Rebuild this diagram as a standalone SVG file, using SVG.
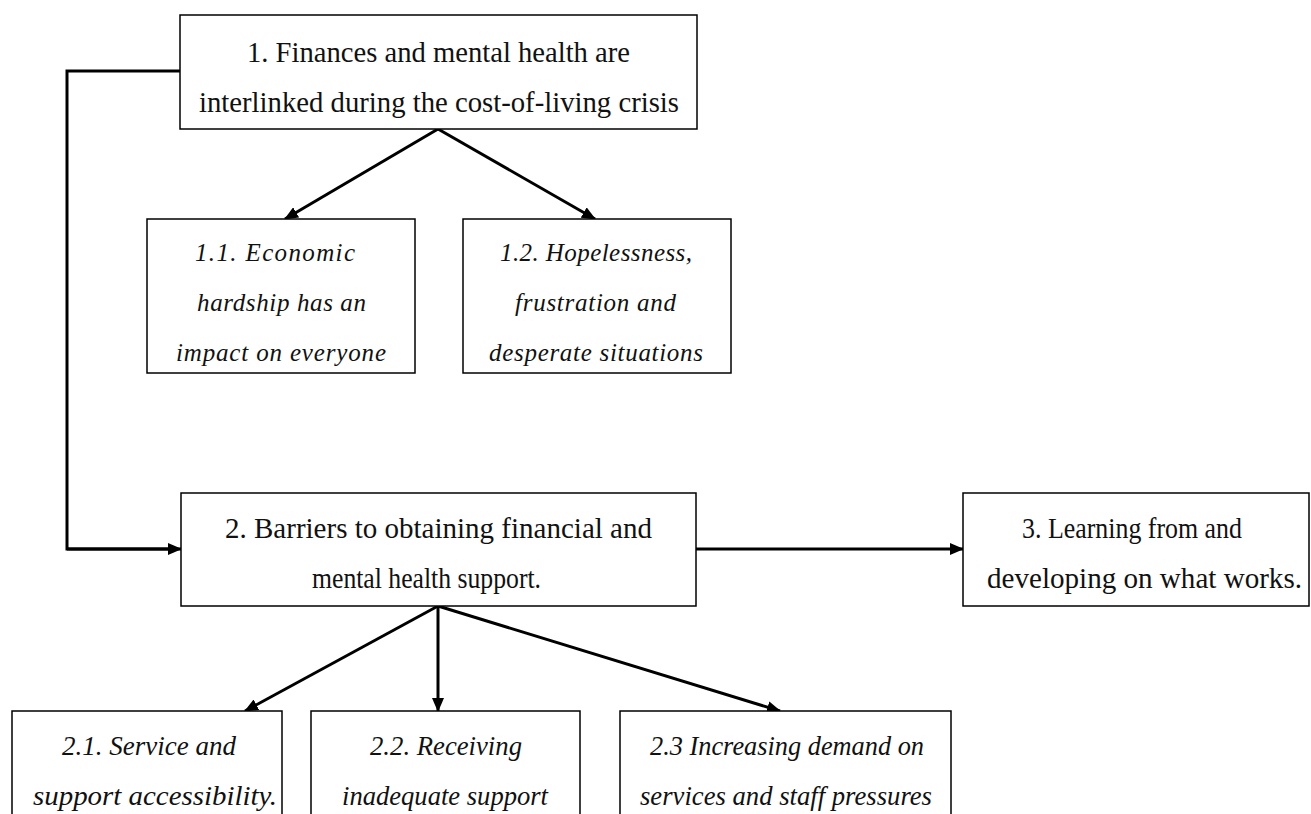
<svg xmlns="http://www.w3.org/2000/svg" width="1311" height="814" viewBox="0 0 1311 814">
<defs>
<marker id="ah" markerWidth="14" markerHeight="12" refX="13" refY="6" orient="auto" markerUnits="userSpaceOnUse" viewBox="0 0 14 12">
<path d="M0,0 L14,6 L0,12 z" fill="#000"/>
</marker>
<style>
.box{fill:#fff;stroke:#000;stroke-width:1.5}
.t{font-size:28.5px;fill:#111;text-anchor:middle}
.i{font-style:italic;font-size:25px}
.b{font-style:italic;font-size:27px}
.c{fill:none;stroke:#000;stroke-width:3;marker-end:url(#ah)}
.cn{fill:none;stroke:#000;stroke-width:3}
</style>
</defs>
<rect width="1311" height="814" fill="#fff"/>
<g id="connectors">
<polyline class="cn" points="180,71 67,71 67,549 172,549"/>
<line class="c" x1="67" y1="549" x2="181" y2="549"/>
<line class="c" x1="438" y1="129" x2="285" y2="219"/>
<line class="c" x1="438" y1="129" x2="595" y2="219"/>
<line class="c" x1="696" y1="549" x2="963" y2="549"/>
<line class="c" x1="438" y1="606" x2="245" y2="711"/>
<line class="c" x1="438" y1="606" x2="438" y2="711"/>
<line class="c" x1="438" y1="606" x2="780" y2="711"/>
</g>
<g font-family="Liberation Serif">
<g id="n1">
<rect class="box" x="180" y="15" width="517" height="114"/>
<text class="t" x="438.5" y="62" textLength="383" lengthAdjust="spacingAndGlyphs">1. Finances and mental health are</text>
<text class="t" x="439" y="112" textLength="480" lengthAdjust="spacingAndGlyphs">interlinked during the cost-of-living crisis</text>
</g>
<g id="n1_1">
<rect class="box" x="147" y="219" width="268" height="154"/>
<text class="t i" x="275" y="261" textLength="160" lengthAdjust="spacing">1.1. Economic</text>
<text class="t i" x="281.5" y="311" textLength="169" lengthAdjust="spacing">hardship has an</text>
<text class="t i" x="281" y="361" textLength="210" lengthAdjust="spacing">impact on everyone</text>
</g>
<g id="n1_2">
<rect class="box" x="463" y="219" width="268" height="154"/>
<text class="t i" x="596" y="261" textLength="192" lengthAdjust="spacing">1.2. Hopelessness,</text>
<text class="t i" x="595.5" y="311" textLength="161" lengthAdjust="spacing">frustration and</text>
<text class="t i" x="596" y="361" textLength="214" lengthAdjust="spacing">desperate situations</text>
</g>
<g id="n2">
<rect class="box" x="181" y="493" width="515" height="113"/>
<text class="t" x="438.5" y="538" textLength="427" lengthAdjust="spacingAndGlyphs">2. Barriers to obtaining financial and</text>
<text class="t" x="426.5" y="588" textLength="229" lengthAdjust="spacingAndGlyphs">mental health support.</text>
</g>
<g id="n3">
<rect class="box" x="963" y="493" width="346" height="113"/>
<text class="t" x="1132" y="538" textLength="220" lengthAdjust="spacingAndGlyphs">3. Learning from and</text>
<text class="t" x="1144.5" y="588" textLength="315" lengthAdjust="spacingAndGlyphs">developing on what works.</text>
</g>
<g id="n2_1">
<rect class="box" x="12" y="711" width="270" height="110"/>
<text class="t b" x="149" y="755" textLength="174" lengthAdjust="spacingAndGlyphs">2.1. Service and</text>
<text class="t b" x="155" y="805" textLength="244" lengthAdjust="spacingAndGlyphs">support accessibility.</text>
</g>
<g id="n2_2">
<rect class="box" x="311" y="711" width="269" height="110"/>
<text class="t b" x="446" y="755" textLength="152" lengthAdjust="spacingAndGlyphs">2.2. Receiving</text>
<text class="t b" x="445" y="805" textLength="206" lengthAdjust="spacingAndGlyphs">inadequate support</text>
</g>
<g id="n2_3">
<rect class="box" x="620" y="711" width="331" height="110"/>
<text class="t b" x="787" y="755" textLength="274" lengthAdjust="spacingAndGlyphs">2.3 Increasing demand on</text>
<text class="t b" x="786" y="805" textLength="292" lengthAdjust="spacingAndGlyphs">services and staff pressures</text>
</g>
</g>
</svg>
